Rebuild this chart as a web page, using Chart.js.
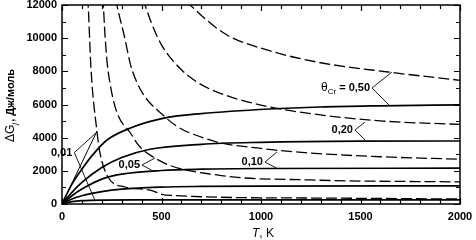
<!DOCTYPE html>
<html>
<head>
<meta charset="utf-8">
<script src="https://cdn.jsdelivr.net/npm/chart.js@4/dist/chart.umd.min.js"></script>
<style>
  html, body { margin: 0; padding: 0; background: #fff; }
  #wrap { width: 476px; height: 240px; }
</style>
</head>
<body>
<div id="wrap"><canvas id="dg"></canvas></div>
<script>
  // solid curves (T, K ; dG, J/mol)
  var solidT50 = [0, 50, 100, 150, 226, 357, 518, 700, 1045, 1300, 1600, 2000];
  var solidG50 = [0, 1200, 2100, 2900, 3860, 4640, 5190, 5450, 5730, 5850, 5920, 5980];
  var solidT20 = [0, 50, 100, 200, 300, 442, 700, 1000, 1500, 2000];
  var solidG20 = [0, 700, 1300, 2200, 2800, 3300, 3600, 3720, 3790, 3800];
  var solidT10 = [0, 50, 100, 200, 300, 500, 700, 1000, 2000];
  var solidG10 = [0, 500, 900, 1500, 1800, 2020, 2100, 2140, 2160];
  var solidT05 = [0, 50, 100, 200, 300, 500, 700, 1000, 2000];
  var solidG05 = [0, 300, 500, 750, 900, 1020, 1060, 1080, 1090];
  var solidT01 = [0, 25, 50, 100, 200, 400, 2000];
  var solidG01 = [0, 80, 140, 200, 235, 245, 250];
  // steep straight line from the origin
  var steepT = [0, 176];
  var steepG = [0, 4400];

  // dashed curves
  var dashT50 = [620, 643, 709, 829, 1030, 1281, 1638, 2000];
  var dashG50 = [12200, 12000, 11276, 10190, 9290, 8560, 7960, 7460];
  var dashT20 = [405, 417, 450, 500, 600, 700, 850, 1045, 1281, 1613, 2000];
  var dashG20 = [12400, 12000, 10900, 9600, 8100, 7200, 6450, 5850, 5400, 5000, 4800];
  var dashT10 = [270, 276, 312, 352, 518, 744, 1000, 1246, 1600, 2000];
  var dashG10 = [12400, 12000, 10190, 8080, 5250, 3860, 3350, 3075, 2850, 2700];
  var dashT05 = [203, 206, 216, 231, 357, 467, 779, 1246, 2000];
  var dashG05 = [12500, 12300, 10190, 8080, 4040, 2770, 1750, 1450, 1330];
  var dashT01 = [128, 130, 146, 176, 191, 231, 317, 442, 518, 1246, 2000];
  var dashG01 = [12500, 12300, 8080, 4340, 3075, 1630, 1025, 840, 540, 360, 300];

  // curve labels: text, anchor (right end of text) and leader ends
  var labelText = ["0,50", "0,20", "0,10", "0,05", "0,01"];
  var labelT = [1548, 1462, 1010, 392, 52];
  var labelG = [6995, 4460, 2530, 2350, 3100];
  var leadUpT = [1658, 1523, 1080, 467, 176];
  var leadUpG = [7960, 4945, 3135, 2770, 4340];
  var leadDnT = [1648, 1523, 1080, 467, 165];
  var leadDnG = [5910, 3860, 2150, 1930, 240];

  var xTicks = [0, 500, 1000, 1500, 2000];
  var yTicks = [0, 2000, 4000, 6000, 8000, 10000, 12000];

  var FONT = "'Liberation Sans', Arial, sans-serif";

  function pts(t, g) {
    return t.map(function (v, i) { return {x: v, y: g[i]}; });
  }

  function curve(t, g, dashed, width) {
    return {
      data: pts(t, g),
      showLine: true,
      borderColor: "#000",
      borderWidth: width || (dashed ? 1.3 : 1.7),
      borderDash: dashed ? [11, 4] : [],
      pointRadius: 0,
      cubicInterpolationMode: "monotone",
      fill: false
    };
  }

  function leader(i) {
    return {
      data: [{x: leadUpT[i], y: leadUpG[i]}, {x: labelT[i] + 10, y: labelG[i]}, {x: leadDnT[i], y: leadDnG[i]}],
      showLine: true,
      borderColor: "#000",
      borderWidth: 0.9,
      pointRadius: 0,
      tension: 0
    };
  }

  var datasets = [
    curve(solidT50, solidG50, false), curve(solidT20, solidG20, false),
    curve(solidT10, solidG10, false), curve(solidT05, solidG05, false),
    curve(solidT01, solidG01, false), curve(steepT, steepG, false, 1),
    curve(dashT50, dashG50, true), curve(dashT20, dashG20, true),
    curve(dashT10, dashG10, true), curve(dashT05, dashG05, true),
    curve(dashT01, dashG01, true)
  ];
  for (var i = 0; i < labelText.length; i++) datasets.push(leader(i));

  // frame, inward ticks, tick labels, titles and curve labels
  var decorPlugin = {
    id: "decor",
    afterDraw: function (chart) {
      var c = chart.ctx, a = chart.chartArea;
      var xs = chart.scales.x, ys = chart.scales.y;
      c.save();
      c.strokeStyle = "#000";
      c.lineWidth = 1.5;
      c.strokeRect(a.left, a.top, a.right - a.left, a.bottom - a.top);
      c.lineWidth = 1.2;
      c.beginPath();
      for (var t = 0; t <= 2000; t += 100) {
        var px = Math.round(xs.getPixelForValue(t)) + 0.5;
        var len = (t % 500 === 0) ? 6 : 4;
        c.moveTo(px, a.bottom); c.lineTo(px, a.bottom - len);
        c.moveTo(px, a.top); c.lineTo(px, a.top + len);
      }
      for (var g = 0; g <= 12000; g += 1000) {
        var py = Math.round(ys.getPixelForValue(g)) + 0.5;
        var len2 = (g % 2000 === 0) ? 6 : 4;
        c.moveTo(a.left, py); c.lineTo(a.left + len2, py);
        c.moveTo(a.right, py); c.lineTo(a.right - len2, py);
      }
      c.stroke();

      c.fillStyle = "#000";
      c.font = "bold 11px " + FONT;
      // tick labels
      c.textAlign = "center"; c.textBaseline = "top";
      xTicks.forEach(function (v) { c.fillText(String(v), xs.getPixelForValue(v), a.bottom + 7); });
      c.textAlign = "right"; c.textBaseline = "middle";
      yTicks.forEach(function (v) { c.fillText(String(v), a.left - 5, ys.getPixelForValue(v)); });

      // x title
      c.textBaseline = "alphabetic";
      c.textAlign = "left";
      var xt = 252, yt = 237;
      c.font = "italic 12px " + FONT;
      c.fillText("T", xt, yt);
      var w = c.measureText("T").width;
      c.font = "12px " + FONT;
      c.fillText(", K", xt + w, yt);

      // y title, rotated, with subscript j
      c.save();
      c.translate(14, 142);
      c.rotate(-Math.PI / 2);
      c.font = "12px " + FONT;
      c.fillText("\u0394G", 0, 0);
      var w1 = c.measureText("\u0394G").width;
      c.font = "italic 8px " + FONT;
      c.fillText("j", w1, 3);
      var w2 = c.measureText("j").width;
      c.font = "bold 11px " + FONT;
      c.fillText(", \u0414\u0436/\u043c\u043e\u043b\u044c", w1 + w2 + 1, 0);
      c.restore();

      // curve labels
      c.textBaseline = "middle";
      for (var k = 0; k < labelText.length; k++) {
        var lx = xs.getPixelForValue(labelT[k]);
        var ly = ys.getPixelForValue(labelG[k]);
        c.font = "bold 11px " + FONT;
        c.textAlign = "right";
        c.fillText(labelText[k], lx, ly);
        if (k === 0) {
          var tw = c.measureText(labelText[k]).width;
          c.fillText("=", lx - tw - 3, ly);
          var ew = c.measureText("=").width;
          c.font = "8px " + FONT;
          var sw = c.measureText("Cr").width;
          c.fillText("Cr", lx - tw - ew - 6, ly + 4);
          c.font = "12px " + FONT;
          c.fillText("\u03b8", lx - tw - ew - sw - 6, ly);
        }
      }
      c.restore();
    }
  };

  new Chart(document.getElementById("dg"), {
    type: "scatter",
    data: {datasets: datasets},
    options: {
      responsive: true,
      maintainAspectRatio: false,
      animation: false,
      layout: {padding: {top: 5, right: 16, left: 0, bottom: 0}},
      plugins: {legend: {display: false}, tooltip: {enabled: false}},
      scales: {
        x: {
          type: "linear", min: 0, max: 2000,
          afterFit: function (s) { s.height = 36; },
          grid: {display: false},
          border: {display: false},
          ticks: {display: false}
        },
        y: {
          type: "linear", min: 0, max: 12000,
          afterFit: function (s) { s.width = 62; },
          grid: {display: false},
          border: {display: false},
          ticks: {display: false}
        }
      }
    },
    plugins: [decorPlugin]
  });
</script>
</body>
</html>
